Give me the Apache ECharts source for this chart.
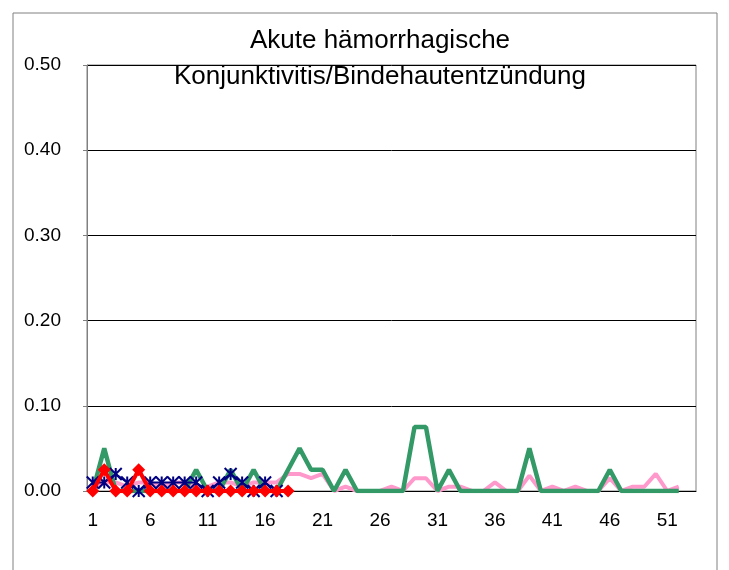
<!DOCTYPE html>
<html>
<head>
<meta charset="utf-8">
<script src="https://cdn.jsdelivr.net/npm/echarts@6/dist/echarts.min.js"></script>
<style>
  html, body { margin: 0; padding: 0; background: #fff; }
  #chart { width: 729px; height: 570px; }
</style>
</head>
<body>
<div id="chart"></div>
<script>
// weeks 1..53 on the category axis
const weeks = []
for (let i = 1; i <= 53; i++) weeks.push(String(i))

// pink - weekly values, weeks 1..52
const pinkValues = [
  0.005, 0.01, 0.01, 0.005, 0.01, 0.01, 0.005, 0.01, 0.01, 0.005,
  0.005, 0.01, 0.01, 0.005, 0.01, 0.01, 0.01, 0.02, 0.02, 0.015,
  0.02, 0, 0.005, 0, 0, 0, 0.005, 0, 0.015, 0.015,
  0, 0.005, 0.005, 0, 0, 0.01, 0, 0, 0.018, 0,
  0.005, 0, 0.005, 0, 0, 0.015, 0, 0.005, 0.005, 0.02,
  0, 0.005
]

// green - weekly values, weeks 1..52
const greenValues = [
  0, 0.05, 0, 0, 0, 0, 0, 0, 0, 0.025,
  0, 0, 0.025, 0, 0.025, 0, 0, 0.025, 0.05, 0.025,
  0.025, 0, 0.025, 0, 0, 0, 0, 0, 0.075, 0.075,
  0, 0.025, 0, 0, 0, 0, 0, 0, 0.05, 0,
  0, 0, 0, 0, 0, 0.025, 0, 0, 0, 0,
  0, 0
]

// navy asterisks - weeks 1..17
const blueValues = [
  0.01, 0.01, 0.02, 0.01, 0, 0.01, 0.01, 0.01, 0.01, 0.01,
  0, 0.01, 0.02, 0.01, 0, 0.01, 0
]

// red diamonds - weeks 1..18
const redValues = [
  0, 0.025, 0, 0, 0.025, 0, 0, 0, 0, 0,
  0, 0, 0, 0, 0, 0, 0, 0
]

const yTicks = [0, 0.1, 0.2, 0.3, 0.4, 0.5]

const labelFont = { fontFamily: 'Liberation Sans', fontSize: 19, color: '#000' }

const chart = echarts.init(document.getElementById('chart'), null, { renderer: 'canvas' })

const options = {
  backgroundColor: '#fff',
  animation: false,
  title: {
    text: 'Akute hämorrhagische\nKonjunktivitis/Bindehautentzündung',
    left: 375,
    top: 18,
    textAlign: 'center',
    textStyle: {
      fontFamily: 'Liberation Sans',
      fontSize: 26,
      fontWeight: 'normal',
      lineHeight: 36,
      color: '#000',
    },
  },
  graphic: [{
    type: 'rect',
    z: -10,
    shape: { x: 13, y: 13, width: 704, height: 600 },
    style: { fill: 'none', stroke: '#808080', lineWidth: 1 },
  }],
  grid: {
    left: 87,
    top: 65,
    right: 33,
    bottom: 79,
    show: true,
    borderColor: '#808080',
    borderWidth: 1,
    backgroundColor: '#fff',
  },
  xAxis: {
    type: 'category',
    data: weeks,
    boundaryGap: true,
    axisLine: { lineStyle: { color: '#000', width: 1 } },
    axisTick: { interval: 4, inside: true, length: 5, lineStyle: { color: '#000' } },
    axisLabel: { interval: 4, margin: 20, ...labelFont },
    splitLine: { show: false },
  },
  yAxis: {
    type: 'value',
    min: yTicks[0],
    max: yTicks[yTicks.length - 1],
    interval: 0.1,
    axisLine: { show: true, lineStyle: { color: '#808080' } },
    axisTick: { show: true, length: 4, lineStyle: { color: '#808080' } },
    axisLabel: { margin: 26, formatter: (v) => v.toFixed(2), ...labelFont },
    splitLine: { show: true, lineStyle: { color: '#000', width: 1 } },
  },
  series: [
    {
      name: 'pink',
      type: 'line',
      data: pinkValues,
      symbol: 'none',
      z: 2,
      lineStyle: { color: '#FF99CC', width: 4 },
    },
    {
      name: 'green',
      type: 'line',
      data: greenValues,
      symbol: 'none',
      z: 3,
      lineStyle: { color: '#339966', width: 4.5 },
    },
    {
      name: 'navy',
      type: 'line',
      data: blueValues,
      z: 4,
      showAllSymbol: true,
      symbol: 'path://M0,0L10,10M10,0L0,10M5,0L5,10',
      symbolSize: 12,
      itemStyle: { color: '#000080', borderColor: '#000080', borderWidth: 2 },
      lineStyle: { color: '#000080', width: 2 },
    },
    {
      name: 'red',
      type: 'line',
      data: redValues,
      z: 5,
      showAllSymbol: true,
      symbol: 'diamond',
      symbolSize: 13,
      itemStyle: { color: '#FF0000' },
      lineStyle: { color: '#FF0000', width: 4 },
    },
  ],
}

chart.setOption(options)
</script>
</body>
</html>
